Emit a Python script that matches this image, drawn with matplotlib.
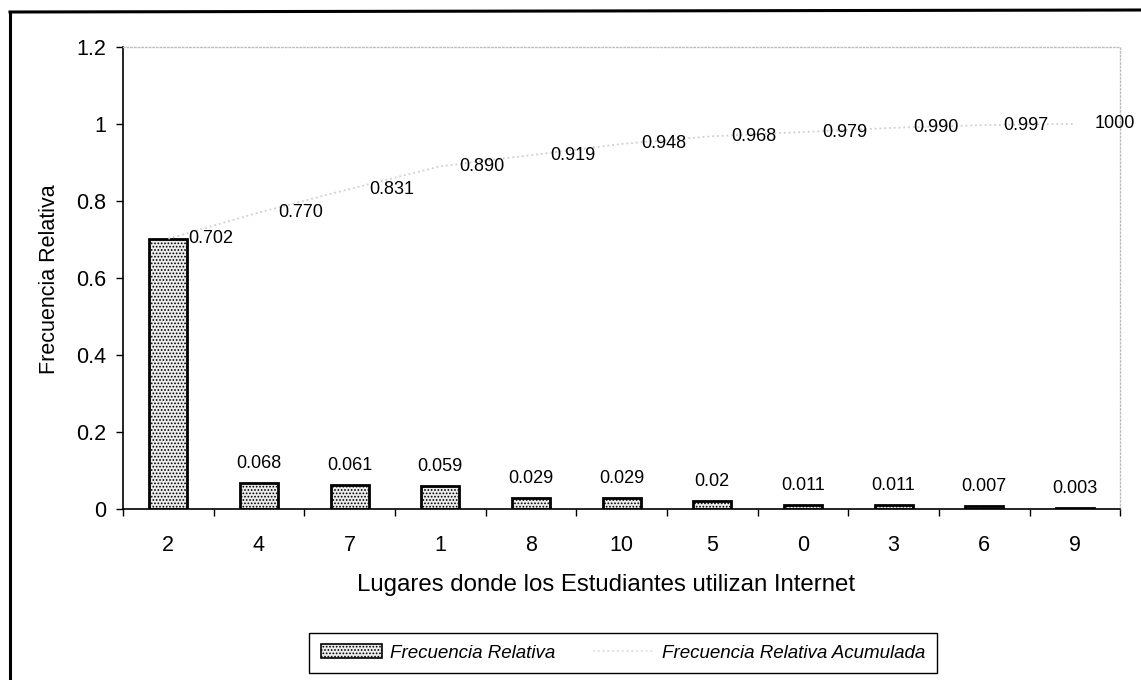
import matplotlib as mlt
mlt.use('Agg')
import matplotlib.pyplot as plt
import numpy as np
from matplotlib.lines import Line2D
from matplotlib.patches import Patch

plt.rcParams['font.family'] = ['Liberation Sans', 'DejaVu Sans']
plt.rcParams['hatch.color'] = '#a8a8a8'
plt.rcParams['hatch.linewidth'] = 0.8

# datos
lugares = ['2', '4', '7', '1', '8', '10', '5', '0', '3', '6', '9']
frec_rel = [0.702, 0.068, 0.061, 0.059, 0.029, 0.029, 0.02, 0.011, 0.011, 0.007, 0.003]
frec_rel_txt = ['', '0.068', '0.061', '0.059', '0.029', '0.029', '0.02', '0.011', '0.011', '0.007', '0.003']
frec_acum = [0.702, 0.770, 0.831, 0.890, 0.919, 0.948, 0.968, 0.979, 0.990, 0.997, 1.000]
frec_acum_txt = ['0.702', '0.770', '0.831', '0.890', '0.919', '0.948', '0.968', '0.979', '0.990', '0.997', '1000']

fig = plt.figure(figsize=(11.41, 6.80), dpi=100)
ax = fig.add_axes([0.1078, 0.2515, 0.874, 0.6795])

x = np.arange(len(lugares))
ax.bar(x, frec_rel, width=0.42, facecolor='#ececec', edgecolor='black',
       linewidth=2, hatch='.....', zorder=2)
ax.plot(x, frec_acum, color='#cfcfcf', linestyle=':', linewidth=1.3, zorder=3)

for i in range(len(x)):
    if frec_rel_txt[i]:
        ax.annotate(frec_rel_txt[i], (x[i], frec_rel[i]), xytext=(0, 8),
                    textcoords='offset points', ha='center', va='bottom', fontsize=13)
    ax.annotate(frec_acum_txt[i], (x[i], frec_acum[i]), xytext=(14, 0),
                textcoords='offset points', ha='left', va='center', fontsize=13)

ax.set_xlim(-0.5, len(x) - 0.5)
ax.set_ylim(0, 1.2)
ax.set_yticks([0, 0.2, 0.4, 0.6, 0.8, 1.0, 1.2])
ax.set_yticklabels(['0', '0.2', '0.4', '0.6', '0.8', '1', '1.2'], fontsize=15.5)
ax.set_xticks(x)
ax.set_xticklabels(lugares, fontsize=15.5)
ax.set_xticks(np.arange(-0.5, len(x)), minor=True)
ax.tick_params(axis='x', which='major', length=0, pad=19)
ax.tick_params(axis='x', which='minor', length=5, width=1, direction='out')
ax.tick_params(axis='y', length=5, width=1, direction='out', pad=7)

ax.spines['left'].set_linewidth(1.2)
ax.spines['bottom'].set_linewidth(1.2)
for s in ['top', 'right']:
    ax.spines[s].set_color('#bdbdbd')
    ax.spines[s].set_linestyle(':')
    ax.spines[s].set_linewidth(1)

fig.text(50 / 1141, 0.59, 'Frecuencia Relativa', rotation=90, ha='center', va='center', fontsize=15.5)
fig.text(0.531, 0.140, 'Lugares donde los Estudiantes utilizan Internet', ha='center', va='center', fontsize=17.3)

h1 = Patch(facecolor='#ececec', edgecolor='black', hatch='.....', linewidth=1.2)
h2 = Line2D([0], [0], color='#dcdcdc', linestyle=':', linewidth=1.3)
leg = fig.legend([h1, h2], ['Frecuencia Relativa', 'Frecuencia Relativa Acumulada'],
                 loc='center', bbox_to_anchor=(0.546, 0.040), ncol=2, fancybox=False,
                 edgecolor='black', framealpha=1, prop={'size': 13.5, 'style': 'italic'},
                 handlelength=3.3, handleheight=0.8, handletextpad=0.4,
                 columnspacing=2.0, borderpad=0.6, borderaxespad=0)
leg.get_frame().set_linewidth(1)

# marco exterior (solo izquierda y arriba visibles en la imagen)
fig.add_artist(Line2D([10 / 1141, 10 / 1141], [0, 1 - 12 / 680], transform=fig.transFigure,
                      color='black', linewidth=2.2))
fig.add_artist(Line2D([10 / 1141, 1], [1 - 12 / 680, 1 - 10 / 680], transform=fig.transFigure,
                      color='black', linewidth=2.2))

fig.savefig('out.png', dpi=100)
